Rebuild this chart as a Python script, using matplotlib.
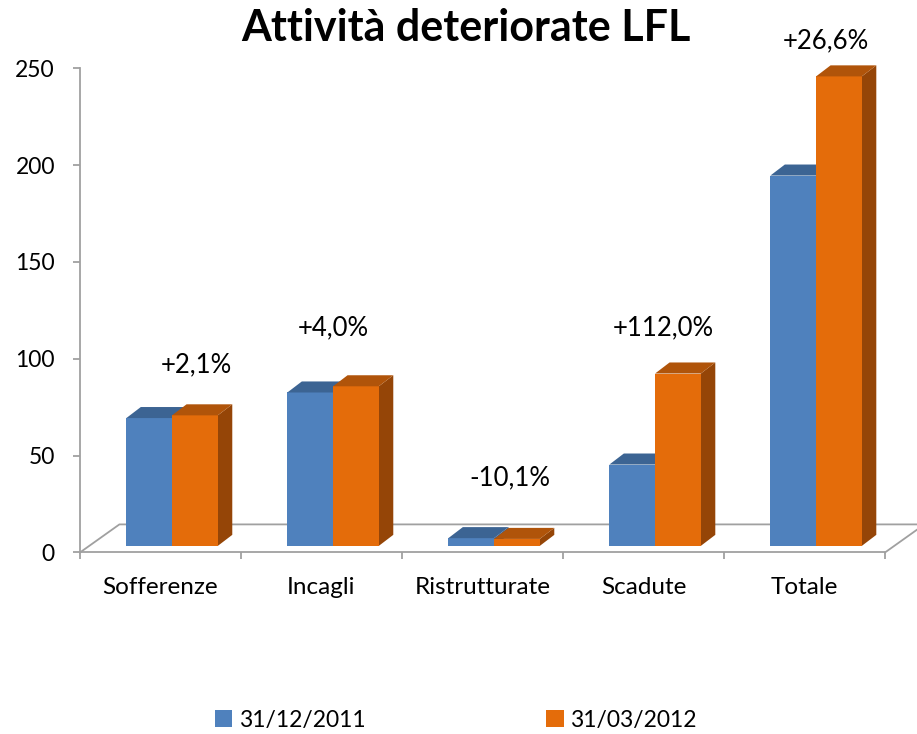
import matplotlib
matplotlib.use("Agg")
import matplotlib.pyplot as plt
from matplotlib.patches import Polygon, Patch

# ===== Dati =====
categorie = ["Sofferenze", "Incagli", "Ristrutturate", "Scadute", "Totale"]
serie_nomi = ["31/12/2011", "31/03/2012"]
val_2011 = [66.0, 79.2, 4.0, 42.0, 191.2]
val_2012 = [67.4, 82.4, 3.6, 89.0, 242.4]
variazioni = ["+2,1%", "+4,0%", "-10,1%", "+112,0%", "+26,6%"]

# posizione delle etichette di variazione (in unità del grafico)
etich_y = [97, 116, 38.5, 116, 264]
etich_dx = [0.15, 0.0, 0.10, 0.05, 0.06]

# ===== Stile =====
FONT = "Lato"
c_front = ["#4F81BD", "#E46C0A"]
c_top = ["#3C6493", "#B0540A"]
c_side = ["#3A5F8C", "#954507"]
grigio = "#A0A0A0"

W = 0.284      # larghezza barra
SHIFT = 0.072  # spostamento barre verso il fondo
BASE = 3.4     # base delle barre (profondità)
DDX, DDY = 0.09, 5.7   # profondità barre
FDX, FDY = 0.245, 14.5  # profondità pavimento

fig = plt.figure(figsize=(9.17, 7.34), dpi=100)
ax = fig.add_axes([0.0872, 0.2473, 0.8779, 0.6597])
ax.set_xlim(0, 5)
ax.set_ylim(0, 250)

# pavimento
ax.plot([0, FDX, 5 + FDX], [0, FDY, FDY], color=grigio, lw=1.3,
        clip_on=False, zorder=1)
ax.plot([5, 5 + FDX], [0, FDY], color=grigio, lw=1.3, clip_on=False, zorder=1)

# ===== Barre 3D =====
for i in range(len(categorie)):
    for s, vals in enumerate([val_2011, val_2012]):
        v = vals[i]
        x0 = i + 0.5 + SHIFT - W + s * W
        z = 3 + s
        ax.bar(x0, v, width=W, bottom=BASE, align="edge",
               color=c_front[s], edgecolor="none", zorder=z, clip_on=False)
        top = Polygon([(x0, BASE + v), (x0 + W, BASE + v),
                       (x0 + W + DDX, BASE + v + DDY), (x0 + DDX, BASE + v + DDY)],
                      closed=True, facecolor=c_top[s], edgecolor="none",
                      zorder=z, clip_on=False)
        side = Polygon([(x0 + W, BASE), (x0 + W + DDX, BASE + DDY),
                        (x0 + W + DDX, BASE + v + DDY), (x0 + W, BASE + v)],
                       closed=True, facecolor=c_side[s], edgecolor="none",
                       zorder=z - 0.5, clip_on=False)
        ax.add_patch(side)
        ax.add_patch(top)

# etichette variazione
for i, txt in enumerate(variazioni):
    ax.text(i + 0.5 + SHIFT + etich_dx[i], etich_y[i], txt, ha="center",
            va="center", fontsize=18.5, family=FONT, clip_on=False, zorder=10)

# ===== Assi =====
for sp in ["top", "right"]:
    ax.spines[sp].set_visible(False)
ax.spines["left"].set_color(grigio)
ax.spines["bottom"].set_color(grigio)
ax.spines["left"].set_linewidth(1.3)
ax.spines["bottom"].set_linewidth(1.3)

ax.set_yticks(range(0, 251, 50))
ax.set_yticklabels([str(t) for t in range(0, 251, 50)], family=FONT, fontsize=16.5)
ax.tick_params(axis="y", length=5, width=1.3, color=grigio, pad=13)

ax.set_xticks(range(6))
ax.set_xticklabels([])
ax.tick_params(axis="x", which="major", length=5, width=1.3, color=grigio)
ax.set_xticks([i + 0.5 for i in range(5)], minor=True)
ax.set_xticklabels(categorie, minor=True, family=FONT, fontsize=17.5)
ax.tick_params(axis="x", which="minor", length=0, pad=18)

fig.text(0.508, 0.962, "Attività deteriorate LFL", ha="center", va="center",
         fontsize=31, fontweight="bold", family=FONT)

handles = [Patch(facecolor=c_front[s], edgecolor="none") for s in range(2)]
fig.legend(handles, serie_nomi, loc="center", bbox_to_anchor=(0.497, 0.019),
           ncol=2, frameon=False, prop={"family": FONT, "size": 16.5},
           handlelength=0.75, handleheight=0.75, handletextpad=0.3,
           columnspacing=7.9)

fig.savefig("out.png", dpi=100)
